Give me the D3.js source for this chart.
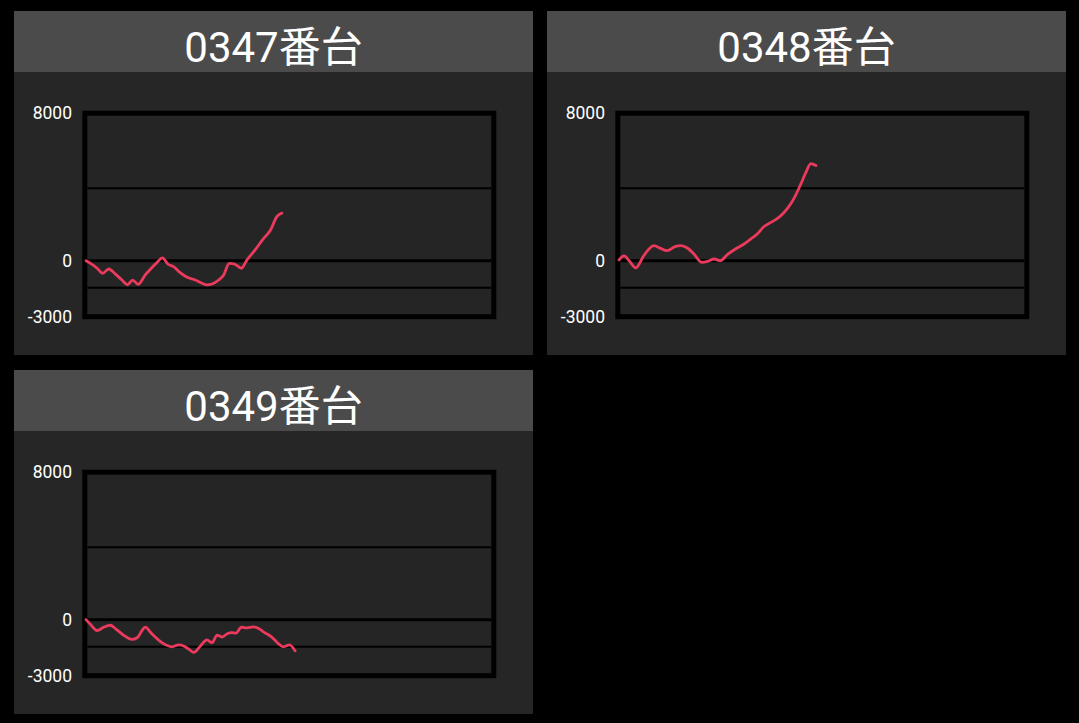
<!DOCTYPE html>
<html><head><meta charset="utf-8">
<script src="https://cdn.jsdelivr.net/npm/d3@7"></script>
<style>html,body{margin:0;padding:0;background:#000;overflow:hidden}</style>
</head><body>
<script>
const titles = ["0347番台", "0348番台", "0349番台"];
const yTicks = [8000, 0, -3000];
const gridValues = [4000, 0, -1500];
const games1 = [0,90,220,330,450,580,710,820,920,1030,1170,1300,1400,1510,1620,1730,1860,2000,2160,2290,2390,2490,2620,2720,2830,2940,3070,3180,3340,3510,3640,3770,3870];
const vals1  = [0,-150,-420,-700,-460,-740,-1070,-1330,-1070,-1310,-790,-390,-110,150,-200,-330,-660,-920,-1070,-1250,-1340,-1290,-1070,-790,-150,-200,-420,40,590,1230,1660,2430,2620];
const games2 = [0,100,200,330,490,690,820,950,1120,1220,1350,1480,1630,1750,1880,2000,2140,2300,2470,2600,2730,2860,3000,3130,3260,3390,3490,3590,3690,3790,3890];
const vals2  = [40,260,0,-400,280,830,680,550,790,830,700,370,-90,-40,90,0,330,640,920,1190,1470,1870,2110,2330,2660,3120,3620,4220,4860,5350,5250];
const games3 = [0,90,220,350,480,580,740,910,1010,1170,1300,1440,1570,1700,1830,1930,2030,2130,2260,2390,2490,2590,2690,2790,2880,2960,3070,3180,3310,3410,3530,3670,3800,3900,4020,4130];
const vals3  = [0,-270,-600,-420,-310,-490,-850,-1090,-1000,-420,-780,-1140,-1390,-1500,-1390,-1450,-1630,-1810,-1450,-1120,-1270,-850,-960,-780,-720,-740,-420,-450,-400,-490,-720,-960,-1320,-1500,-1390,-1720];
const seriesGames = [games1, games2, games3];
const seriesVals = [vals1, vals2, vals3];
const xDomain = [0, 8000];
const yDomain = [-3000, 8000];

const W = 1079, H = 723;
const svg = d3.select("body").append("svg").attr("width", W).attr("height", H);
svg.append("rect").attr("width", W).attr("height", H).attr("fill", "#000");

const panelPos = [[14, 11], [547, 11], [14, 370]];
const PW = 519, PH = 344, TH = 61;

const x = d3.scaleLinear().domain(xDomain).range([72, 477]);
const y = d3.scaleLinear().domain(yDomain).range([304, 104.7]);

titles.forEach((t, i) => {
  const g = svg.append("g").attr("transform", `translate(${panelPos[i][0]},${panelPos[i][1]})`);
  g.append("rect").attr("width", PW).attr("height", PH).attr("fill", "#262626");
  g.append("rect").attr("width", PW).attr("height", TH).attr("fill", "#4b4b4b");
  g.append("text").attr("x", PW / 2).attr("y", 50.5).attr("text-anchor", "middle")
    .attr("fill", "#fff").attr("font-family", "Roboto, 'Noto Sans CJK JP', sans-serif")
    .attr("font-size", 42).text(t);

  // plot frame
  g.append("rect").attr("x", 70.8).attr("y", 102.2).attr("width", 409).attr("height", 203.5)
    .attr("fill", "#252525").attr("stroke", "#000").attr("stroke-width", 5);

  // grid lines
  g.selectAll("line.grid").data(gridValues).enter().append("line")
    .attr("x1", 73.3).attr("x2", 477.3)
    .attr("y1", d => y(d)).attr("y2", d => y(d))
    .attr("stroke", "#000").attr("stroke-width", d => d === 0 ? 3 : 2);

  // y labels
  g.selectAll("text.yl").data(yTicks).enter().append("text")
    .attr("x", 58).attr("y", d => y(d) + (d === 8000 ? -2.5 : d === -3000 ? 1.5 : 0))
    .attr("dy", "0.35em").attr("text-anchor", "end")
    .attr("fill", "#fff").attr("font-family", "Roboto, sans-serif").attr("font-size", 17.5)
    .text(d => d);

  const pts = seriesGames[i].map((gm, k) => [gm, seriesVals[i][k]]);
  const line = d3.line().x(d => x(d[0])).y(d => y(d[1])).curve(d3.curveMonotoneX);
  g.append("path").datum(pts).attr("d", line).attr("fill", "none")
    .attr("stroke", "#ec3a5c").attr("stroke-width", 2.8)
    .attr("stroke-linejoin", "round").attr("stroke-linecap", "round");
});
</script>
</body></html>
